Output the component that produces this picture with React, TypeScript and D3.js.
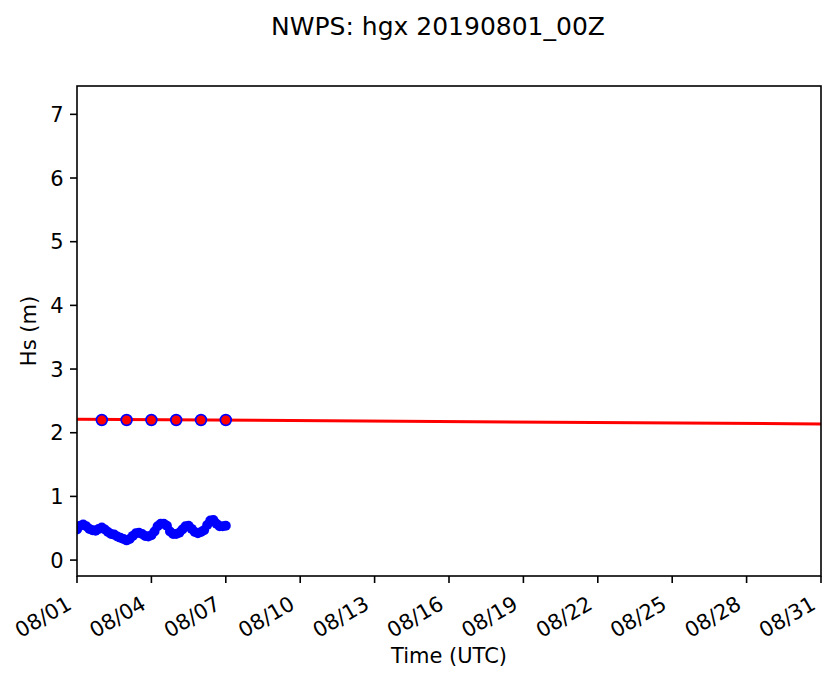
import React, { useEffect } from "react";
import * as d3 from "d3";

// ---- data ----
const titleText = "NWPS: hgx 20190801_00Z";
const xLabel = "Time (UTC)";
const yLabel = "Hs (m)";

const xStart = "2019-08-01T00:00:00Z";
const xEnd = "2019-08-31T00:00:00Z";
const xTickDates = [
  "2019-08-01", "2019-08-04", "2019-08-07", "2019-08-10", "2019-08-13", "2019-08-16",
  "2019-08-19", "2019-08-22", "2019-08-25", "2019-08-28", "2019-08-31",
];
const yTicks = [0, 1, 2, 3, 4, 5, 6, 7];
const yDomain = [-0.25, 7.445];

// observed Hs (blue), every 3 hours from 2019-08-01 00Z
const obsHours = [
  0, 3, 6, 9, 12, 15, 18, 21, 24, 27, 30, 33, 36, 39, 42, 45, 48, 51, 54, 57, 60, 63, 66, 69,
  72, 75, 78, 81, 84, 87, 90, 93, 96, 99, 102, 105, 108, 111, 114, 117, 120, 123, 126, 129,
  132, 135, 138, 141, 144,
];
const obsValues = [
  0.48, 0.54, 0.56, 0.53, 0.49, 0.47, 0.46, 0.49, 0.51, 0.48, 0.44, 0.41, 0.4, 0.37, 0.35, 0.33,
  0.31, 0.33, 0.38, 0.42, 0.43, 0.41, 0.38, 0.37, 0.39, 0.45, 0.53, 0.57, 0.57, 0.54, 0.45, 0.41,
  0.41, 0.43, 0.48, 0.53, 0.54, 0.49, 0.44, 0.42, 0.44, 0.47, 0.55, 0.62, 0.63, 0.57, 0.53, 0.53,
  0.54,
];

// red model trend line
const trendDates = ["2019-08-01T00:00:00Z", "2019-08-31T00:00:00Z"];
const trendValues = [2.213, 2.138];

// red dots
const dotDates = [
  "2019-08-02T00:00:00Z", "2019-08-03T00:00:00Z", "2019-08-04T00:00:00Z",
  "2019-08-05T00:00:00Z", "2019-08-06T00:00:00Z", "2019-08-07T00:00:00Z",
];
const dotValues = [2.2, 2.2, 2.2, 2.2, 2.2, 2.2];

const W = 839;
const H = 681;
const L = 77, R = 821, T = 86, B = 576;
const FONT = "'DejaVu Sans', sans-serif";
const TICK_FS = 21;

export default function App() {
  useEffect(() => {
    document.body.style.margin = "0";
  }, []);

  const x = d3.scaleUtc().domain([new Date(xStart), new Date(xEnd)]).range([L, R]);
  const y = d3.scaleLinear().domain(yDomain).range([B, T]);
  const fmt = d3.utcFormat("%m/%d");

  const t0 = new Date(xStart).getTime();
  const obs = obsHours.map((h, i) => ({ t: new Date(t0 + h * 3600e3), v: obsValues[i] }));
  const line = d3
    .line<{ t: Date; v: number }>()
    .x((d) => x(d.t))
    .y((d) => y(d.v))
    .curve(d3.curveCatmullRom);

  const trend = trendDates.map((d, i) => ({ t: new Date(d), v: trendValues[i] }));
  const trendLine = d3
    .line<{ t: Date; v: number }>()
    .x((d) => x(d.t))
    .y((d) => y(d.v));

  return (
    <svg width={W} height={H} style={{ display: "block", background: "#fff" }} fontFamily={FONT}>
      <defs>
        <clipPath id="plot">
          <rect x={L} y={T} width={R - L} height={B - T} />
        </clipPath>
      </defs>
      <text x={(L + R) / 2 - 11} y={35} textAnchor="middle" fontSize={25} fill="#000">
        {titleText}
      </text>

      <g clipPath="url(#plot)">
        <path d={trendLine(trend) || ""} fill="none" stroke="#ff0000" strokeWidth={3} />
        <path
          d={line(obs) || ""}
          fill="none"
          stroke="#0000ff"
          strokeWidth={7}
          strokeLinejoin="round"
          strokeLinecap="round"
        />
        {obs.map((d, i) => (
          <circle key={"o" + i} cx={x(d.t)} cy={y(d.v)} r={5} fill="#0000ff" />
        ))}
        {dotDates.map((d, i) => (
          <circle
            key={"d" + i}
            cx={x(new Date(d))}
            cy={y(dotValues[i])}
            r={5.4}
            fill="#ff0000"
            stroke="#0000ff"
            strokeWidth={1.7}
          />
        ))}
      </g>

      {/* axes frame */}
      <rect x={L} y={T} width={R - L} height={B - T} fill="none" stroke="#000" strokeWidth={1.6} />

      {/* y ticks */}
      {yTicks.map((v) => (
        <g key={"y" + v}>
          <line x1={L - 7} x2={L} y1={y(v)} y2={y(v)} stroke="#000" strokeWidth={1.6} />
          <text x={L - 13.5} y={y(v)} dy="0.36em" textAnchor="end" fontSize={TICK_FS} fill="#000">
            {v}
          </text>
        </g>
      ))}

      {/* x ticks */}
      {xTickDates.map((d) => {
        const xx = x(new Date(d + "T00:00:00Z"));
        const px = xx - 4;
        const py = 608;
        return (
          <g key={d}>
            <line x1={xx} x2={xx} y1={B} y2={B + 7} stroke="#000" strokeWidth={1.6} />
            <text
              x={px}
              y={py}
              textAnchor="end"
              fontSize={TICK_FS}
              fill="#000"
              transform={`rotate(-30, ${px}, ${py})`}
            >
              {fmt(new Date(d + "T00:00:00Z"))}
            </text>
          </g>
        );
      })}

      <text x={(L + R) / 2} y={663} textAnchor="middle" fontSize={TICK_FS} fill="#000">
        {xLabel}
      </text>
      <text
        transform={`translate(36, ${(T + B) / 2}) rotate(-90)`}
        textAnchor="middle"
        fontSize={TICK_FS}
        fill="#000"
      >
        {yLabel}
      </text>
    </svg>
  );
}
